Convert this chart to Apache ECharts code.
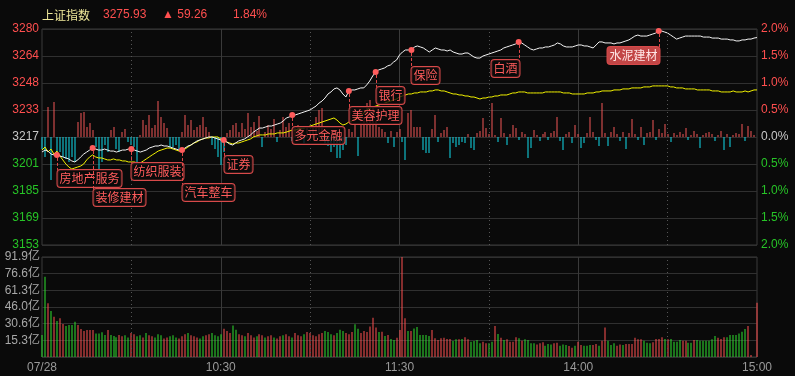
<!DOCTYPE html>
<html>
<head>
<meta charset="utf-8">
<title>上证指数 分时</title>
<script src="https://cdn.jsdelivr.net/npm/echarts@6/dist/echarts.min.js"></script>
<style>
  html, body { margin: 0; padding: 0; background: #0a0a0a; }
  #chart { width: 795px; height: 376px; }
</style>
</head>
<body>
<div id="chart"></div>
<script>
// header values
const indexName = '上证指数';
const lastPrice = '3275.93';
const changeVal = '59.26';
const changePct = '1.84%';
const preClose = 3216.67;

// axis tick labels
const priceTicks = ['3153', '3169', '3185', '3201', '3217', '3233', '3248', '3264', '3280'];
const pctTicks = ['2.0%', '1.5%', '1.0%', '0.5%', '0.0%', '0.5%', '1.0%', '1.5%', '2.0%'];
const volTicks = ['', '15.3亿', '30.6亿', '46.0亿', '61.3亿', '76.6亿', '91.9亿'];
const volMax = 91.9;
const timeTickIndex = [0, 60, 120, 180, 240];
const timeTickText = ['07/28', '10:30', '11:30', '14:00', '15:00'];

// index price per minute (09:30 .. 15:00)
const price = [
  3207.7, 3208.9, 3208.3, 3206.5, 3206.0, 3206.0, 3205.4, 3204.8, 3204.2, 3203.6,
  3202.4, 3201.8, 3203.0, 3204.8, 3206.5, 3207.7, 3208.9, 3210.1, 3209.5, 3208.9,
  3208.9, 3209.5, 3208.9, 3208.3, 3208.3, 3207.7, 3208.3, 3208.9, 3208.9, 3209.5,
  3209.5, 3208.9, 3208.3, 3207.7, 3208.3, 3208.9, 3210.1, 3210.7, 3211.3, 3211.3,
  3211.9, 3211.3, 3211.3, 3210.7, 3210.1, 3209.5, 3208.9, 3208.9, 3210.1, 3211.3,
  3211.9, 3213.1, 3214.3, 3214.9, 3215.5, 3216.1, 3216.7, 3216.7, 3216.1, 3215.5,
  3214.9, 3214.9, 3213.7, 3212.5, 3211.9, 3213.1, 3214.3, 3214.9, 3215.5, 3216.7,
  3217.9, 3219.6, 3220.8, 3222.0, 3222.0, 3222.6, 3223.2, 3223.2, 3223.8, 3224.4,
  3225.0, 3226.2, 3228.0, 3228.6, 3229.8, 3229.8, 3230.4, 3231.0, 3231.6, 3232.2,
  3232.8, 3234.0, 3235.1, 3236.9, 3238.1, 3239.9, 3242.3, 3243.5, 3245.3, 3245.9,
  3244.7, 3242.3, 3240.5, 3244.1, 3244.7, 3244.7, 3245.3, 3245.9, 3245.9, 3247.7,
  3250.0, 3253.0, 3255.4, 3256.6, 3257.2, 3257.8, 3259.0, 3259.6, 3261.3, 3262.5,
  3265.5, 3267.3, 3268.5, 3268.5, 3268.5, 3270.3, 3270.9, 3270.3, 3269.7, 3268.5,
  3267.3, 3268.5, 3269.7, 3269.1, 3268.5, 3268.5, 3267.9, 3268.5, 3267.3, 3266.7,
  3266.1, 3266.1, 3266.7, 3266.7, 3265.5, 3264.3, 3263.7, 3263.7, 3264.9, 3265.5,
  3266.1, 3266.7, 3267.3, 3267.9, 3268.5, 3269.7, 3270.3, 3270.9, 3271.5, 3272.1,
  3273.3, 3272.7, 3271.5, 3270.3, 3269.1, 3268.5, 3269.1, 3269.7, 3269.7, 3270.3,
  3270.3, 3270.9, 3271.5, 3272.7, 3272.1, 3270.9, 3270.3, 3270.3, 3270.3, 3270.9,
  3271.5, 3271.5, 3270.9, 3270.9, 3270.3, 3269.7, 3271.5, 3273.3, 3273.3, 3272.7,
  3272.7, 3272.7, 3272.1, 3272.7, 3272.7, 3273.3, 3273.9, 3274.5, 3275.6, 3276.8,
  3277.4, 3276.8, 3276.8, 3276.8, 3277.4, 3278.0, 3278.6, 3279.8, 3279.8, 3279.2,
  3278.6, 3277.4, 3276.2, 3275.0, 3275.6, 3276.2, 3276.8, 3276.8, 3276.8, 3276.8,
  3276.8, 3276.8, 3276.2, 3276.2, 3276.2, 3275.6, 3275.6, 3275.6, 3275.0, 3275.0,
  3275.0, 3274.5, 3274.5, 3273.9, 3273.9, 3274.5, 3274.5, 3275.0, 3275.0, 3275.6,
  3275.93
];

// yellow line per minute
const avgPrice = [
  3208.9, 3210.7, 3207.7, 3209.5, 3206.5, 3208.3, 3205.4, 3203.0, 3200.6, 3198.8,
  3197.6, 3198.2, 3198.8, 3199.4, 3200.6, 3203.0, 3204.8, 3206.0, 3204.8, 3204.2,
  3204.2, 3203.6, 3203.0, 3203.0, 3203.6, 3203.0, 3203.0, 3202.4, 3202.4, 3201.8,
  3201.8, 3201.8, 3201.2, 3201.2, 3202.4, 3203.6, 3204.8, 3206.0, 3207.1, 3208.3,
  3208.9, 3209.5, 3210.1, 3210.1, 3209.5, 3208.9, 3208.3, 3208.3, 3209.5, 3210.7,
  3211.9, 3213.1, 3213.7, 3214.9, 3215.5, 3216.1, 3216.1, 3216.7, 3216.7, 3216.7,
  3215.5, 3214.9, 3213.7, 3213.1, 3212.5, 3213.1, 3213.1, 3213.7, 3214.3, 3214.9,
  3215.5, 3216.7, 3217.3, 3217.9, 3217.9, 3217.9, 3218.5, 3218.5, 3218.5, 3219.1,
  3219.1, 3219.1, 3219.6, 3220.2, 3220.8, 3220.8, 3221.4, 3222.0, 3222.0, 3222.6,
  3223.2, 3223.8, 3224.4, 3225.0, 3225.6, 3226.2, 3226.8, 3227.4, 3228.0, 3226.8,
  3225.0, 3223.8, 3224.4, 3225.6, 3226.2, 3227.4, 3228.0, 3229.2, 3231.0, 3232.8,
  3234.0, 3234.5, 3235.1, 3235.7, 3236.3, 3236.9, 3237.5, 3238.1, 3238.7, 3239.3,
  3240.5, 3241.1, 3241.7, 3242.3, 3242.3, 3242.9, 3242.9, 3243.5, 3243.5, 3243.5,
  3244.1, 3244.1, 3244.7, 3244.7, 3244.1, 3244.1, 3243.5, 3242.9, 3242.3, 3242.3,
  3241.7, 3241.7, 3241.1, 3241.1, 3240.5, 3240.5, 3239.9, 3239.3, 3239.9, 3239.9,
  3240.5, 3240.5, 3241.1, 3241.1, 3241.7, 3241.7, 3241.7, 3242.3, 3242.9, 3242.9,
  3243.5, 3243.5, 3243.5, 3242.9, 3242.9, 3242.9, 3242.9, 3242.9, 3242.9, 3243.5,
  3243.5, 3243.5, 3243.5, 3243.5, 3243.5, 3242.9, 3242.9, 3242.9, 3242.3, 3242.3,
  3242.3, 3242.3, 3242.3, 3242.9, 3242.9, 3242.9, 3243.5, 3243.5, 3244.1, 3244.1,
  3244.1, 3244.1, 3244.7, 3244.7, 3244.7, 3245.3, 3245.3, 3245.3, 3245.9, 3245.9,
  3245.9, 3245.9, 3246.5, 3246.5, 3246.5, 3247.1, 3247.1, 3247.1, 3247.1, 3247.1,
  3247.1, 3246.5, 3246.5, 3245.9, 3245.9, 3245.9, 3245.3, 3245.3, 3245.3, 3245.3,
  3244.7, 3244.7, 3244.7, 3244.7, 3244.7, 3244.1, 3244.1, 3244.1, 3243.5, 3243.5,
  3243.5, 3243.5, 3244.1, 3243.5, 3243.5, 3243.5, 3244.1, 3243.5, 3244.1, 3244.7,
  3244.7
];

// red / cyan strength bars around the zero line
const strength = [
  -12, -20, 30, -43, 35, -20, -15, -20, -22, -25,
  -20, -25, 15, 24, 25, 10, 14, 7, -10, -32,
  -25, -8, -15, 7, 10, -12, -15, 5, 8, -5,
  -8, -10, -28, 2, 17, 12, 22, 9, 12, 36,
  20, 14, 9, -10, -10, -8, -12, 5, 22, 12,
  17, 7, 10, 12, 20, 10, 5, -8, -12, -20,
  -28, -15, 4, 7, 12, 14, 5, 14, 8, 24,
  10, 15, 6, 21, -10, 5, 12, 8, 18, -5,
  7, 20, 10, 14, -4, 9, 12, 10, -8, 9,
  6, 9, 20, 27, 29, -6, -9, -15, -10, -21,
  -21, -13, -8, 8, 5, 12, -19, 12, 20, 34,
  37, 30, 16, 10, 8, 5, -6, 6, -10, 5,
  8, -5, -23, 24, 27, 10, 10, 10, -13, -16,
  -16, 8, 22, -5, 4, 7, 10, -21, -6, -10,
  -8, -5, -6, 3, -11, -13, 4, 6, 19, 9,
  3, 34, 2, -5, 19, 4, -8, 3, 12, 9,
  -3, 5, 3, -21, -11, 7, 2, -4, 3, 5,
  -3, 4, 6, 20, -4, -13, 3, 5, -6, 12,
  3, -11, -6, 4, 20, 5, -3, -9, 34, 4,
  -9, 5, 10, 3, -4, 5, -12, 4, 18, 3,
  -3, 10, -8, 4, 5, 17, -3, 8, 4, 13,
  3, -5, 4, 2, 5, 3, 9, -3, 2, 6,
  3, -11, 2, 4, 5, 3, -4, 2, 6, -13,
  3, -10, 2, 4, 3, 13, -4, 11, 6, 2,
  0
];

// turnover per minute, 亿
const volume = [
  20.2, 73.8, 49.3, 42.3, 37.0, 33.0, 35.5, 30.3, 28.5, 29.4,
  29.4, 32.5, 29.4, 25.7, 23.9, 24.8, 24.8, 24.8, 21.7, 21.7,
  22.7, 20.2, 24.8, 20.2, 19.3, 18.1, 20.2, 19, 20, 18,
  22, 21, 19, 20, 18, 22, 20, 19, 18, 21,
  20, 17, 18, 19, 20, 18, 17, 19, 21, 22,
  20, 19, 18, 17, 19, 20, 21, 22, 20, 19,
  21, 26, 24, 22, 29, 25, 21, 20, 19, 22,
  20, 18, 19, 21, 20, 18, 19, 20, 18, 17,
  19, 20, 21, 19, 18, 22, 20, 19, 21, 23,
  22, 20, 19, 21, 22, 24, 23, 21, 20, 22,
  25, 24, 22, 21, 23, 30, 26, 22, 24, 23,
  28, 36, 27, 23, 23.3, 19.3, 20.2, 16.5, 15.6, 17.8,
  24.8, 91.9, 35.5, 23.9, 23.9, 26.3, 27.6, 20.2, 20.2, 20.2,
  19.3, 24.8, 17.2, 15.6, 17.2, 17.8, 16.5, 16.5, 14.7, 16.2,
  16.2, 16.5, 18.1, 16.2, 14.1, 14.7, 15.6, 12.6, 14.1, 12.6,
  12.6, 14.1, 28.5, 21.1, 17.8, 15.6, 16.2, 14.1, 14.1, 18.1,
  17.2, 15.0, 16.2, 15.6, 12.6, 12.6, 11.6, 12.6, 13.5, 10.4,
  11.9, 11.6, 12.6, 13.2, 10.4, 11.6, 11.0, 10.1, 8.6, 10.4,
  14.1, 11.0, 10.4, 10.4, 11.0, 11.0, 11.9, 10.4, 15.0, 27.0,
  15.0, 11.0, 12.6, 10.4, 11.6, 11.0, 11.9, 11.9, 11.9, 17.8,
  16.2, 16.2, 15.0, 13.2, 12.6, 13.5, 16.5, 16.5, 18.1, 16.5,
  16.2, 16.5, 14.1, 14.1, 15.6, 15.0, 15.0, 13.2, 13.2, 15.6,
  15.6, 15.0, 15.0, 15.0, 15.0, 16.2, 19.3, 17.8, 16.5, 18.1,
  18.1, 20.2, 20.2, 20.2, 21.7, 23.3, 25.7, 28.5, 1.8, 0,
  49.9
];

// r = up minute, g = down minute
const volDir = (
  'ggrgrgrrgg' + 'ggrrrrrrgg' + 'ggrgggrrgg' + 'rrggrgrrgg' +
  'grrgggrrrg' + 'rrrggrrggg' + 'grrrggrrgr' + 'rrgrrgrrgr' +
  'rgrrgrrrgr' + 'rrrrrgggrg' + 'ggrrrggrrr' + 'rrrg' +
  'rgrggrrr' + 'rgrggggggr' + 'rrrrrrggrg' + 'rrggggrrgg' +
  'rgrgrrrrgr' + 'ggggrrrggg' + 'rrgggrrgrr' + 'gggrrgrrgg' +
  'grrgrrrrrr' + 'gggrrrrgrg' + 'gggrrggrgg' + 'gggggrrrgg' +
  'gggggrrrr'
).split('');

// sector notes on the price line
const notes = [
  { name: '房地产服务', idx: 5 },
  { name: '装修建材', idx: 17 },
  { name: '纺织服装', idx: 30 },
  { name: '汽车整车', idx: 47 },
  { name: '证券', idx: 61 },
  { name: '多元金融', idx: 84 },
  { name: '美容护理', idx: 103 },
  { name: '银行', idx: 112 },
  { name: '保险', idx: 124 },
  { name: '白酒', idx: 160 },
  { name: '水泥建材', idx: 207 }
];
// where each note box sits relative to its dot (px)
const noteBox = [
  { dy: 15, align: 'left' }, { dy: 41, align: 'left' }, { dy: 14, align: 'left' },
  { dy: 34, align: 'left' }, { dy: 16, align: 'left' }, { dy: 12, align: 'left' },
  { dy: 16, align: 'left' }, { dy: 15, align: 'left' }, { dy: 17, align: 'left' },
  { dy: 18, align: 'right' }, { dy: 16, align: 'right', filled: true }
];

const RED = '#ff4f4f';
const GREEN = '#27c427';
const GRID = '#303030';

const times = [];
for (let m = 570; m <= 690; m++) times.push(Math.floor(m / 60) + ':' + String(m % 60).padStart(2, '0'));
for (let m = 781; m <= 900; m++) times.push(Math.floor(m / 60) + ':' + String(m % 60).padStart(2, '0'));

const yMin = preClose * 0.98;
const yMax = preClose * 1.02;
const yStep = preClose * 0.005;
function tickNo(v){ return Math.round((v - yMin) / yStep); }
function sideColor(i, mid){ return i > mid ? RED : (i < mid ? GREEN : '#c8c8c8'); }

const quarterLines = [times[30], times[90], times[150], times[210]].map((t)=>({ xAxis: t }));
const dottedMark = {
  silent: true, symbol: ['none', 'none'], label: { show: false },
  lineStyle: { type: [1, 3], color: '#555', width: 1 },
  data: quarterLines
};

// thin crisp 1px bars from the zero value up/down to the data value
function thinBar(colorOf){
  return function(params, api){
    const i = api.value(0);
    const v = api.value(1);
    const base = api.coord([i, 0]);
    const tip = api.coord([i, v]);
    const x = Math.round(tip[0]) - 0.5;
    const y0 = Math.min(base[1], tip[1]);
    const h = Math.abs(base[1] - tip[1]);
    if(h <= 0) return null;
    return {
      type: 'rect',
      shape: { x: x, y: y0, width: 1, height: h },
      style: { fill: colorOf(params.dataIndex, v) }
    };
  };
}

function renderNote(params, api){
  const box = noteBox[params.dataIndex];
  const pt = api.coord([api.value(0), api.value(1)]);
  const x = Math.round(pt[0]) + 0.5;
  const y = pt[1];
  return {
    type: 'group',
    children: [
      {
        type: 'line',
        shape: { x1: x, y1: y + 3, x2: x, y2: y + box.dy },
        style: { stroke: '#e04848', lineWidth: 1, lineDash: [3, 2] }
      },
      {
        type: 'text',
        x: x, y: y + box.dy,
        style: {
          text: notes[params.dataIndex].name,
          font: '12px "Noto Sans CJK SC", sans-serif',
          fill: box.filled ? '#ffe6e6' : '#ff5c5c',
          align: box.align, verticalAlign: 'top',
          backgroundColor: box.filled ? '#c24646' : 'rgba(10,10,10,0.78)',
          borderColor: '#d84a4a', borderWidth: 1, borderRadius: 3,
          padding: [2, 2, 2, 2], lineHeight: 13
        }
      },
      {
        type: 'circle',
        shape: { cx: pt[0], cy: y, r: 3 },
        style: { fill: '#ff5c5c' }
      }
    ]
  };
}

const chart = echarts.init(document.getElementById('chart'), null, { renderer: 'canvas' });

chart.setOption({
  backgroundColor: '#0a0a0a',
  animation: false,
  textStyle: { fontFamily: 'Arial, "Liberation Sans", "Noto Sans CJK SC", sans-serif' },
  graphic: [
    { type: 'text', left: 42, top: 9, style: { text: indexName, fill: '#efe89a', font: '12px "Noto Sans CJK SC", sans-serif' } },
    { type: 'text', left: 103, top: 9, style: { text: lastPrice, fill: RED, font: '12px Arial, "Liberation Sans"' } },
    { type: 'text', left: 162, top: 9, style: { text: '▲ ' + changeVal, fill: RED, font: '12px Arial, "Liberation Sans", "DejaVu Sans"' } },
    { type: 'text', left: 233, top: 9, style: { text: changePct, fill: RED, font: '12px Arial, "Liberation Sans"' } }
  ],
  grid: [
    { left: 42, top: 29, width: 715, height: 216, show: true, borderColor: '#3a3a3a', borderWidth: 1 },
    { left: 42, top: 257, width: 715, height: 100, show: true, borderColor: '#3a3a3a', borderWidth: 1 }
  ],
  xAxis: [
    {
      type: 'category', gridIndex: 0, data: times, boundaryGap: false,
      axisLine: { show: false }, axisTick: { show: false }, axisLabel: { show: false },
      splitLine: { show: true, interval: (i)=> i === 60 || i === 120 || i === 180, lineStyle: { color: '#3a3a3a' } }
    },
    {
      type: 'category', gridIndex: 1, data: times, boundaryGap: false,
      axisLine: { show: false }, axisTick: { show: false },
      axisLabel: {
        interval: (i)=> timeTickIndex.indexOf(i) >= 0,
        formatter: (v, i)=> timeTickText[timeTickIndex.indexOf(i)] || '',
        color: '#9a9a9a', fontSize: 12, margin: 5
      },
      splitLine: { show: true, interval: (i)=> i === 60 || i === 120 || i === 180, lineStyle: { color: '#3a3a3a' } }
    }
  ],
  yAxis: [
    {
      type: 'value', gridIndex: 0, min: yMin, max: yMax, interval: yStep,
      axisLine: { show: false }, axisTick: { show: false },
      axisLabel: {
        margin: 3, fontSize: 12,
        formatter: (v)=> priceTicks[tickNo(v)] || '',
        color: (v)=> sideColor(tickNo(v), 4)
      },
      splitLine: { lineStyle: { color: GRID } }
    },
    {
      type: 'value', gridIndex: 0, position: 'right', min: yMin, max: yMax, interval: yStep,
      axisLine: { show: false }, axisTick: { show: false },
      axisLabel: {
        margin: 4, fontSize: 12,
        formatter: (v)=> pctTicks[tickNo(v)] || '',
        color: (v)=> sideColor(tickNo(v), 4)
      },
      splitLine: { show: false }
    },
    { type: 'value', gridIndex: 0, min: -108, max: 108, show: false, splitLine: { show: false } },
    {
      type: 'value', gridIndex: 1, min: 0, max: volMax, interval: volMax / 6,
      axisLine: { show: false }, axisTick: { show: false },
      axisLabel: {
        margin: 2, fontSize: 12, color: '#a8a8a8',
        formatter: (v)=> volTicks[Math.round(v / (volMax / 6))] || ''
      },
      splitLine: { lineStyle: { color: GRID } }
    }
  ],
  series: [
    {
      name: 'strength', type: 'custom', xAxisIndex: 0, yAxisIndex: 2, z: 1, silent: true,
      data: strength.map((v, i)=>[i, v]),
      encode: { x: 0, y: 1 },
      renderItem: thinBar((i, v)=> v >= 0 ? '#f25656' : '#10dcec'),
      markLine: dottedMark
    },
    {
      name: 'avg', type: 'line', xAxisIndex: 0, yAxisIndex: 0, data: avgPrice,
      showSymbol: false, lineStyle: { color: '#f2f200', width: 1 }, silent: true, z: 3
    },
    {
      name: 'price', type: 'line', xAxisIndex: 0, yAxisIndex: 0, data: price,
      showSymbol: false, lineStyle: { color: '#f4f4f4', width: 1 }, silent: true, z: 4
    },
    {
      name: 'notes', type: 'custom', xAxisIndex: 0, yAxisIndex: 0, z: 6, silent: true,
      data: notes.map((n)=>[n.idx, price[n.idx]]),
      encode: { x: 0, y: 1 },
      renderItem: renderNote
    },
    {
      name: 'volume', type: 'custom', xAxisIndex: 1, yAxisIndex: 3, silent: true,
      data: volume.map((v, i)=>[i, v]),
      encode: { x: 0, y: 1 },
      renderItem: thinBar((i)=> volDir[i] === 'r' ? '#ff5050' : '#2ee02e'),
      markLine: dottedMark
    }
  ]
});
</script>
</body>
</html>
